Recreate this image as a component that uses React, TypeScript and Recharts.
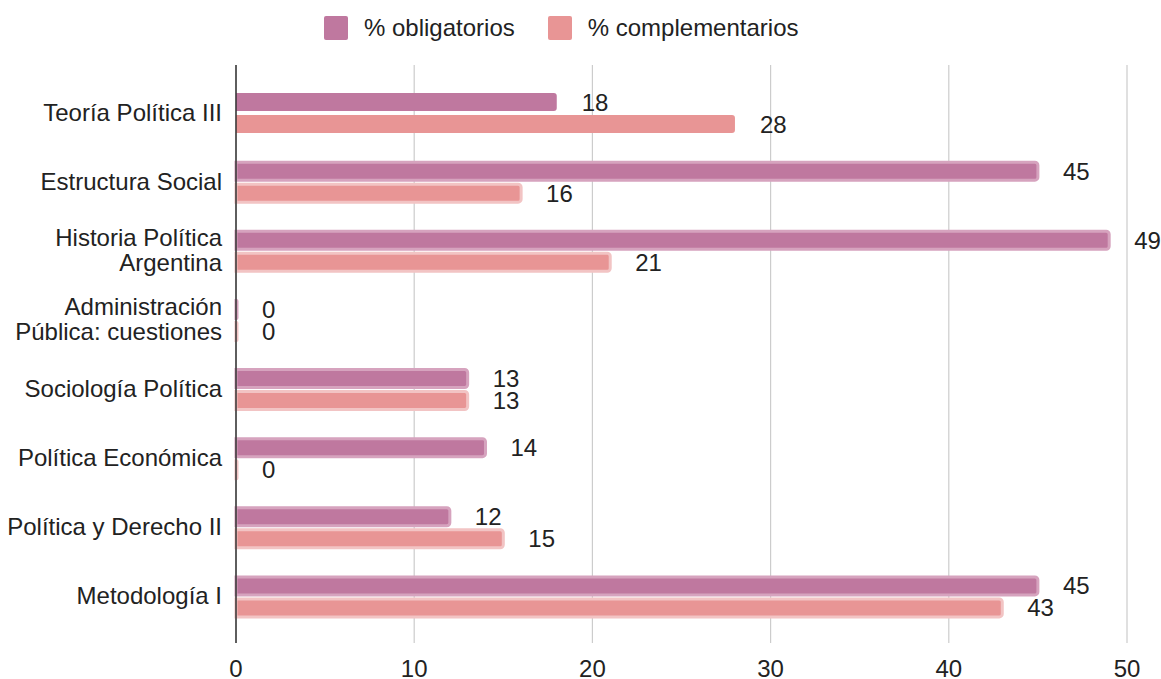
import React from "react";
import {
  BarChart,
  Bar,
  XAxis,
  YAxis,
  CartesianGrid,
  Legend,
  LabelList,
  Cell,
} from "recharts";

const categories = [
  "Teoría Política III",
  "Estructura Social",
  "Historia Política Argentina",
  "Administración Pública: cuestiones",
  "Sociología Política",
  "Política Económica",
  "Política y Derecho II",
  "Metodología I",
];
const obligatorios = [18, 45, 49, 0, 13, 14, 12, 45];
const complementarios = [28, 16, 21, 0, 13, 0, 15, 43];
const xTicks = [0, 10, 20, 30, 40, 50];

const FONT = '"Liberation Sans", Arial, sans-serif';
const FS = 24;
const PURPLE = "#bf789f";
const PURPLE_RING = "#d6a3be";
const PINK = "#e89595";
const PINK_RING = "#f2c4c4";

const data = categories.map((name, i) => ({
  name,
  obligatorios: obligatorios[i],
  complementarios: complementarios[i],
}));

function wrap(text: string, max = 22) {
  const words = text.split(" ");
  const lines: string[] = [];
  let cur = "";
  for (const w of words) {
    const next = cur ? cur + " " + w : w;
    if (next.length > max && cur) {
      lines.push(cur);
      cur = w;
    } else {
      cur = next;
    }
  }
  if (cur) lines.push(cur);
  return lines;
}

function CategoryTick(props: any) {
  const { x, y, payload } = props;
  const lines = wrap(String(payload.value));
  const lh = 25;
  const start = -((lines.length - 1) * lh) / 2;
  return (
    <text x={x} y={y} textAnchor="end" fill="#222" fontSize={FS} fontFamily={FONT}>
      {lines.map((l, i) => (
        <tspan key={i} x={x} dy={i === 0 ? start + 8 : lh}>
          {l}
        </tspan>
      ))}
    </text>
  );
}

function LegendContent() {
  const items = [
    { label: "% obligatorios", color: PURPLE },
    { label: "% complementarios", color: PINK },
  ];
  return (
    <div
      style={{
        height: 55,
        display: "flex",
        alignItems: "flex-start",
        paddingLeft: 324,
        paddingTop: 6,
        fontFamily: FONT,
        fontSize: FS,
        color: "#222",
        boxSizing: "border-box",
      }}
    >
      {items.map((it, i) => (
        <div key={i} style={{ display: "flex", alignItems: "center", marginRight: 33 }}>
          <div
            style={{
              width: 24,
              height: 24,
              background: it.color,
              borderRadius: 2,
              marginRight: 16,
            }}
          />
          <span style={{ lineHeight: "24px" }}>{it.label}</span>
        </div>
      ))}
    </div>
  );
}

export default function App() {
  return (
    <div style={{ position: "absolute", left: 0, top: 0, background: "#fff" }}>
      <BarChart
        width={1161}
        height={679}
        data={data}
        layout="vertical"
        margin={{ top: 10, right: 34, bottom: 0, left: 0 }}
        barSize={18}
        barGap={4}
      >
        <CartesianGrid horizontal={false} stroke="#cccccc" strokeWidth={1.2} />
        <XAxis
          type="number"
          domain={[0, 50]}
          ticks={xTicks}
          axisLine={false}
          tickLine={false}
          height={36}
          tickMargin={11}
          tick={{ fill: "#222", fontSize: FS, fontFamily: FONT }}
        />
        <YAxis
          type="category"
          dataKey="name"
          width={236}
          padding={{ top: 13, bottom: 12 }}
          axisLine={{ stroke: "#333", strokeWidth: 1.5 }}
          tickLine={false}
          tickMargin={8}
          tick={<CategoryTick />}
          interval={0}
        />
        <Legend verticalAlign="top" height={55} content={<LegendContent />} />
        <Bar
          dataKey="obligatorios"
          fill={PURPLE}
          radius={[0, 3, 3, 0]}
          minPointSize={1}
          isAnimationActive={false}
        >
          {data.map((_, i) => (
            <Cell key={i} stroke={i === 0 ? "none" : PURPLE_RING} strokeWidth={3} />
          ))}
          <LabelList
            dataKey="obligatorios"
            position="right"
            offset={25}
            fill="#222"
            fontSize={FS}
            fontFamily={FONT}
          />
        </Bar>
        <Bar
          dataKey="complementarios"
          fill={PINK}
          radius={[0, 3, 3, 0]}
          minPointSize={1}
          isAnimationActive={false}
        >
          {data.map((_, i) => (
            <Cell key={i} stroke={i === 0 ? "none" : PINK_RING} strokeWidth={3} />
          ))}
          <LabelList
            dataKey="complementarios"
            position="right"
            offset={25}
            fill="#222"
            fontSize={FS}
            fontFamily={FONT}
          />
        </Bar>
      </BarChart>
    </div>
  );
}
